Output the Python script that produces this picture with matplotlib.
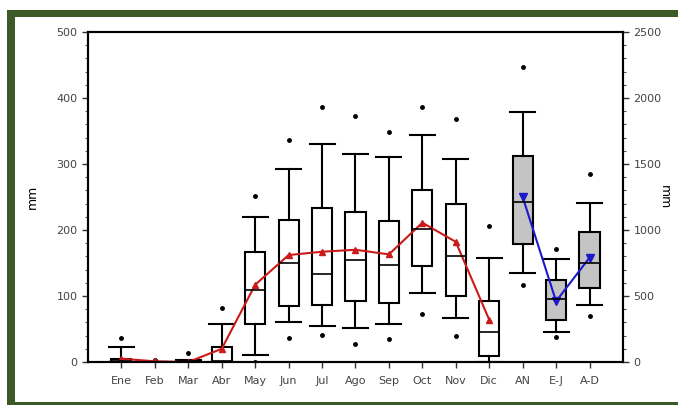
import matplotlib.pyplot as plt
from matplotlib.patches import Rectangle

# Monthly rainfall (left axis, mm)
months = ['Ene', 'Feb', 'Mar', 'Abr', 'May', 'Jun', 'Jul', 'Ago', 'Sep', 'Oct', 'Nov', 'Dic']
m_whislo = [0, 0, 0, 0, 10, 60, 55, 52, 57, 104, 67, 0]
m_q1 = [0, 0, 0, 0, 58, 85, 86, 93, 89, 146, 100, 9]
m_med = [1, 0, 1, 2, 109, 150, 134, 155, 147, 202, 160, 45]
m_q3 = [4, 0, 2, 22, 166, 215, 234, 227, 214, 260, 239, 93]
m_whishi = [23, 0, 3, 57, 220, 293, 330, 315, 310, 344, 307, 158]
m_fliers = [[37], [3], [13], [82], [251, 0], [336, 36], [387, 41], [372, 27],
            [349, 35], [387, 73], [368, 39], [206]]
m_mean = [5, 1, 0, 20, 117, 162, 167, 170, 163, 211, 182, 64]

# Annual / seasonal totals (right axis, mm)
periods = ['AN', 'E-J', 'A-D']
p_whislo = [672, 225, 432]
p_q1 = [891, 318, 563]
p_med = [1214, 475, 752]
p_q3 = [1560, 621, 982]
p_whishi = [1891, 778, 1207]
p_fliers = [[2237, 581], [854, 192], [1424, 351]]
p_mean = [1250, 460, 790]

fig = plt.figure(figsize=(6.78, 4.05), dpi=100)
# green frame: top, left and bottom bands (picture is cut on the right)
green = '#3b5a26'
for (x0, y0, w, h) in [(0.0103, 0.958, 0.99, 0.0173),
                       (0.0103, 0.0, 0.0118, 0.9753),
                       (0.0103, 0.0, 0.99, 0.0082)]:
    fig.patches.append(Rectangle((x0, y0), w, h, transform=fig.transFigure,
                                 facecolor=green, edgecolor='none'))

ax = fig.add_axes([0.1298, 0.1062, 0.789, 0.815])
ax2 = ax.twinx()


def make_stats(lo, q1, med, q3, hi, fl):
    return [dict(whislo=a, q1=b, med=c, q3=d, whishi=e, fliers=f)
            for a, b, c, d, e, f in zip(lo, q1, med, q3, hi, fl)]


flier = dict(marker='o', markerfacecolor='black', markeredgecolor='black', markersize=2.5)
pos_m = list(range(1, 13))
pos_p = [13, 14, 15]

ax.bxp(make_stats(m_whislo, m_q1, m_med, m_q3, m_whishi, m_fliers), positions=pos_m,
       widths=0.6, capwidths=0.75, patch_artist=True,
       boxprops=dict(facecolor='white', edgecolor='black', linewidth=1.5),
       whiskerprops=dict(color='black', linewidth=1.5),
       capprops=dict(color='black', linewidth=1.5),
       medianprops=dict(color='black', linewidth=1.2),
       flierprops=flier)
ax.plot(pos_m, m_mean, color='#cc1a1a', marker='^', markersize=5, linewidth=1.5)

ax2.bxp(make_stats(p_whislo, p_q1, p_med, p_q3, p_whishi, p_fliers), positions=pos_p,
        widths=0.6, capwidths=0.75, patch_artist=True,
        boxprops=dict(facecolor='#c4c4c4', edgecolor='black', linewidth=1.5),
        whiskerprops=dict(color='black', linewidth=1.5),
        capprops=dict(color='black', linewidth=1.5),
        medianprops=dict(color='black', linewidth=1.2),
        flierprops=flier)
ax2.plot(pos_p, p_mean, color='#1a1acc', marker='v', markersize=6, linewidth=1.5)

ax.set_xlim(0, 16)
ax.set_ylim(0, 500)
ax2.set_ylim(0, 2500)
ax.set_yticks(range(0, 501, 100))
ax.set_yticks(range(0, 501, 20), minor=True)
ax2.set_yticks(range(0, 2501, 500))
ax2.set_yticks(range(0, 2501, 100), minor=True)

ax.set_xticks(pos_m + pos_p)
ax.set_xticklabels(months + periods)
ax2.set_xticks(pos_m + pos_p)
for i, lab in enumerate(ax.get_xticklabels()):
    lab.set_fontsize(8 if i < 12 else 10)
    lab.set_color('#222222' if i >= 12 else '#333333')

for a in (ax, ax2):
    a.tick_params(axis='both', which='major', direction='out', length=4, width=1,
                  labelsize=8, labelcolor='#444444', color='#333333')
    a.tick_params(axis='y', which='minor', direction='out', length=2.5, width=0.8, color='#555555')
    for s in a.spines.values():
        s.set_linewidth(1.5)
ax.tick_params(axis='x', which='major', labelsize=8, pad=6)

ax.set_ylabel('mm', fontsize=9)
ax2.set_ylabel('mm', fontsize=9, rotation=270, va='center')
ax.yaxis.set_label_coords(-0.092, 0.5)
ax2.yaxis.set_label_coords(1.078, 0.5)

fig.savefig('out.png', dpi=100)
